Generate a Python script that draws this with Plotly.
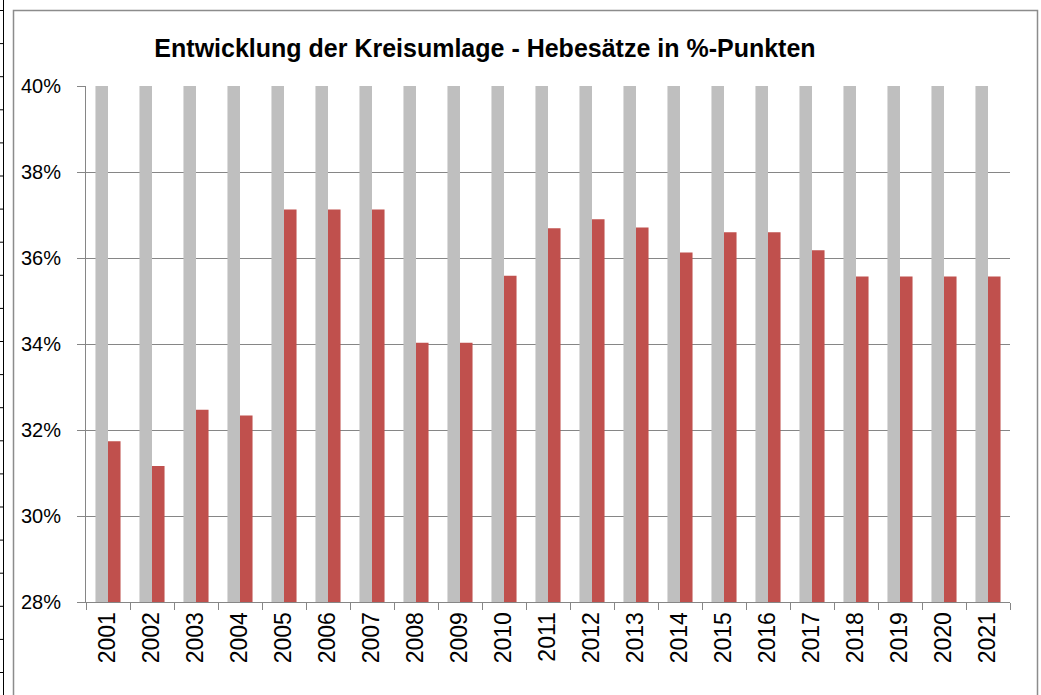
import plotly.graph_objects as go

# ---- data ----
years = ["2001", "2002", "2003", "2004", "2005", "2006", "2007", "2008", "2009", "2010", "2011",
         "2012", "2013", "2014", "2015", "2016", "2017", "2018", "2019", "2020", "2021"]
# grey background series (extends above the visible 40% limit)
grey_values = [0.41, 0.41, 0.41, 0.41, 0.41, 0.41, 0.41, 0.41, 0.41, 0.41, 0.41,
               0.41, 0.41, 0.41, 0.41, 0.41, 0.41, 0.41, 0.41, 0.41, 0.41]
# Kreisumlage Hebesätze
red_values = [0.3174, 0.3116, 0.3247, 0.3234, 0.3713, 0.3713, 0.3713, 0.3403, 0.3403, 0.3559, 0.3669,
              0.3690, 0.3671, 0.3613, 0.3660, 0.3660, 0.3618, 0.3557, 0.3557, 0.3557, 0.3557]
y_ticks = [0.28, 0.30, 0.32, 0.34, 0.36, 0.38, 0.40]
title_text = "Entwicklung der Kreisumlage - Hebesätze in %-Punkten"

W, H = 1041, 695
L, R, T, B = 86, 1010, 86, 602


def xp(px):
    return (px - L) / (R - L)


def yp(py):
    return (B - py) / (B - T)


fig = go.Figure()
fig.add_trace(go.Bar(x=years, y=grey_values, marker=dict(color="#BFBFBF", line=dict(width=0)),
                     showlegend=False, hoverinfo="skip"))
fig.add_trace(go.Bar(x=years, y=red_values, marker=dict(color="#C0504D", line=dict(width=0)),
                     showlegend=False))

shapes = []
# chart border
shapes.append(dict(type="rect", xref="paper", yref="paper", x0=xp(13.5), x1=xp(1037.5),
                   y0=yp(720), y1=yp(10.5), line=dict(color="#8C8C8C", width=1.5),
                   fillcolor="rgba(0,0,0,0)", layer="below"))
# spreadsheet cell lines at the left edge
shapes.append(dict(type="line", xref="paper", yref="paper", x0=xp(3.5), x1=xp(3.5),
                   y0=yp(0), y1=yp(695), line=dict(color="black", width=1)))
for k in range(21):
    y = 10.5 + 33.1 * k
    shapes.append(dict(type="line", xref="paper", yref="paper", x0=xp(-1), x1=xp(3.5),
                       y0=yp(y), y1=yp(y), line=dict(color="black", width=1)))

fig.update_layout(
    width=W, height=H,
    margin=dict(l=L, r=W - R, t=T, b=H - B, pad=0),
    paper_bgcolor="white", plot_bgcolor="white",
    barmode="group", bargap=0.43, bargroupgap=0,
    title=dict(text="<b>" + title_text + "</b>", x=485 / W, xanchor="center", xref="container",
               y=1 - 48 / H, yanchor="middle", yref="container",
               font=dict(family="Liberation Sans", size=25, color="black")),
    font=dict(family="Liberation Sans", color="black"),
    shapes=shapes,
    xaxis=dict(type="category", tickson="boundaries", ticks="outside", ticklen=7, tickcolor="#868686",
               showline=True, linecolor="#868686", linewidth=1, tickangle=-90,
               tickfont=dict(size=23, color="black"), showgrid=False, fixedrange=True),
    yaxis=dict(range=[0.28, 0.40], tickvals=y_ticks, tickformat=".0%", ticks="outside", ticklen=8,
               tickcolor="#868686", showline=True, linecolor="#868686", linewidth=1,
               showgrid=True, gridcolor="#868686", gridwidth=1, zeroline=False,
               tickfont=dict(size=20, color="black"), ticklabelstandoff=12),
)

fig.write_html("out.html", config={"displayModeBar": False},
               post_script="document.body.style.margin='0';document.body.style.overflow='hidden';")
